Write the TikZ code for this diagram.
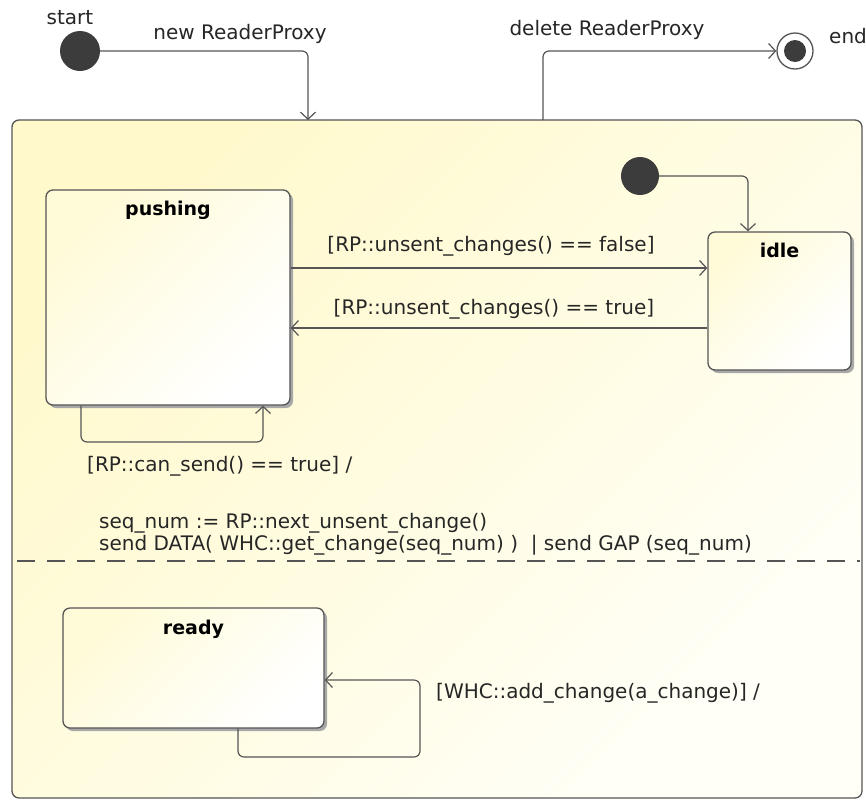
\documentclass[tikz,border=0pt]{standalone}
\usepackage{fontspec}
\setmainfont{DejaVu Sans}
\usetikzlibrary{arrows.meta,shadows}
\definecolor{ln}{HTML}{555555}
\definecolor{dotc}{HTML}{3C3C3C}
\definecolor{yl}{HTML}{FFF9CC}
\definecolor{wh}{HTML}{FFFFF8}
\definecolor{syl}{HTML}{FFFBD8}
\definecolor{shd}{HTML}{A8A8A8}
\begin{document}
\begin{tikzpicture}[x=1pt,y=-1pt,
  every node/.style={font=\fontsize{20}{22}\selectfont, text=black!85},
  conn/.style={draw=ln, line width=1.2pt, rounded corners=6pt},
  arr/.style={conn, -{Straight Barb[length=7pt,width=15pt,line width=1.2pt]}},
  statebox/.style={draw=ln, line width=1.3pt, rounded corners=7pt,
    top color=syl, bottom color=white, shading angle=45,
    drop shadow={shadow xshift=3pt, shadow yshift=-3pt, fill=shd, opacity=1},
    inner sep=0pt},
  outerbox/.style={draw=ln, line width=1.3pt, rounded corners=7pt,
    top color=yl, bottom color=wh, shading angle=45, inner sep=0pt},
  title/.style={font=\fontsize{19}{22}\selectfont\bfseries, text=black},
  dotnode/.style={circle, fill=dotc, inner sep=0pt},
  lbl/.style={inner sep=0pt}
]
\useasboundingbox (0,0) rectangle (866,801);
\fill[white] (0,0) rectangle (866,801);

% outer composite state
\node[outerbox, minimum width=850pt, minimum height=678pt] (outer) at (437,459) {};
\draw[draw=ln, line width=1.2pt, dash pattern=on 18pt off 12pt] (17,561) -- (860,561);

% top level pseudo states
\node[dotnode, minimum size=40pt] (start) at (80,51) {};
\node[lbl] (startlbl) at (70,18) {start};
\node[circle, draw=ln, line width=1.3pt, fill=white, minimum size=36pt, inner sep=0pt] (end) at (795,51) {};
\node[dotnode, minimum size=22pt] (endin) at (795,51) {};
\node[lbl, anchor=west] (endlbl) at (829,36) {end};

\coordinate (inA) at (308,120);
\coordinate (outA) at (543,120);
\draw[arr] (start.east) -| (inA);
\node[lbl] (newlbl) at (240,34) {new ReaderProxy};
\draw[arr] (outA) |- (end.west);
\node[lbl] (dellbl) at (607,30) {delete ReaderProxy};

% states
\node[statebox, minimum width=244pt, minimum height=215pt] (pushing) at (168,297.5) {};
\node[title] (pushlbl) at (168,210) {pushing};
\node[statebox, minimum width=143pt, minimum height=138pt] (idle) at (779.5,301) {};
\node[title] (idlelbl) at (779.5,250) {idle};
\node[statebox, minimum width=261pt, minimum height=120pt] (ready) at (193.5,668) {};
\node[title] (readylbl) at (193.5,629) {ready};

% inner initial
\node[dotnode, minimum size=38pt] (init) at (640,176) {};
\coordinate (idleIn) at (748,0);
\draw[arr] (init.east) -| (idle.north -| idleIn);

% transitions
\coordinate (yF) at (0,268);
\coordinate (yT) at (0,328);
\draw[arr] (pushing.east |- yF) -- (idle.west |- yF);
\node[lbl] (falselbl) at (491,246) {[RP::unsent\_changes() == false]};
\draw[arr] (idle.west |- yT) -- (pushing.east |- yT);
\node[lbl] (truelbl) at (494,309) {[RP::unsent\_changes() == true]};

% pushing self loop
\coordinate (pl1) at (81,442);
\coordinate (pl2) at (263,442);
\draw[arr] (pushing.south -| pl1) -- (pl1) -- (pl2) -- (pushing.south -| pl2);
\node[lbl, anchor=west] (cansend) at (87,466) {[RP::can\_send() == true] /};
\node[lbl, anchor=west] (seqlbl) at (99,523) {seq\_num := RP::next\_unsent\_change()};
\node[lbl, anchor=west] (sendlbl) at (99,545) {send DATA( WHC::get\_change(seq\_num) ) \ | send GAP (seq\_num)};

% ready self loop
\coordinate (rl1) at (238,757);
\coordinate (rl2) at (420,757);
\coordinate (rl3) at (420,680);
\draw[arr] (ready.south -| rl1) -- (rl1) -- (rl2) -- (rl3) -- (ready.east |- rl3);
\node[lbl, anchor=west] (addlbl) at (436,693) {[WHC::add\_change(a\_change)] /};
\end{tikzpicture}
\end{document}
